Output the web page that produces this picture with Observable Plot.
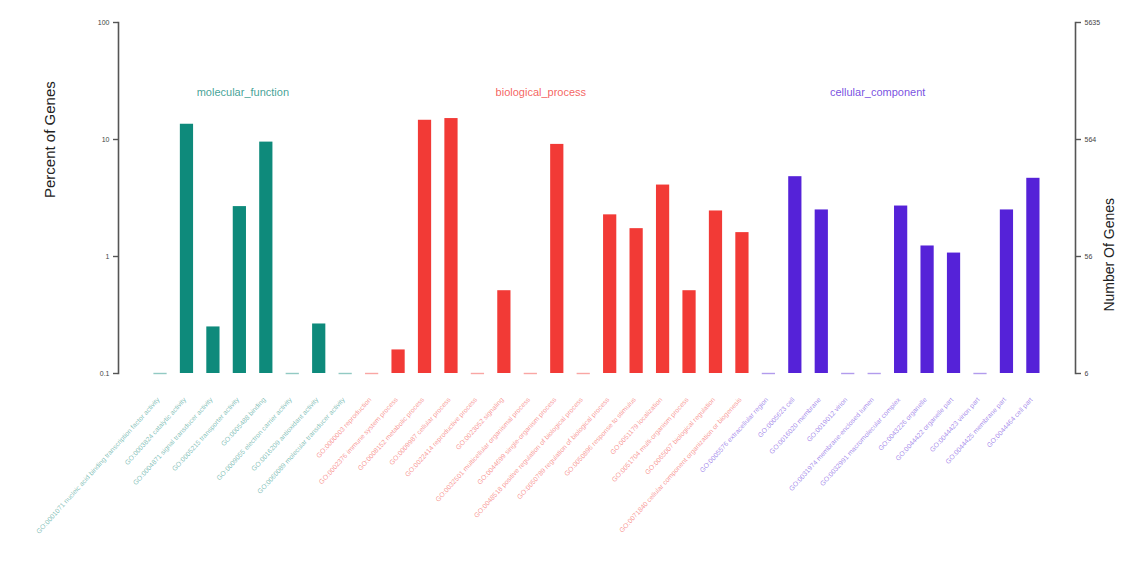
<!DOCTYPE html>
<html>
<head>
<meta charset="utf-8">
<script src="https://cdn.jsdelivr.net/npm/d3@7"></script>
<script src="https://cdn.jsdelivr.net/npm/@observablehq/plot@0.6"></script>
<style>
  html, body { margin: 0; padding: 0; background: #fff; }
</style>
</head>
<body>
<div id="chart"></div>
<script>
// ---- data ----
const groups = ["molecular_function", "biological_process", "cellular_component"];
const groupColors = ["#0e8a7b", "#f23a36", "#5522d8"];

const mfTerms = [
  "GO:0001071 nucleic acid binding transcription factor activity",
  "GO:0003824 catalytic activity",
  "GO:0004871 signal transducer activity",
  "GO:0005215 transporter activity",
  "GO:0005488 binding",
  "GO:0009055 electron carrier activity",
  "GO:0016209 antioxidant activity",
  "GO:0060089 molecular transducer activity"
];
const mfPercent = [0, 13.5, 0.25, 2.67, 9.5, 0, 0.265, 0];

const bpTerms = [
  "GO:0000003 reproduction",
  "GO:0002376 immune system process",
  "GO:0008152 metabolic process",
  "GO:0009987 cellular process",
  "GO:0022414 reproductive process",
  "GO:0023052 signaling",
  "GO:0032501 multicellular organismal process",
  "GO:0044699 single-organism process",
  "GO:0048518 positive regulation of biological process",
  "GO:0050789 regulation of biological process",
  "GO:0050896 response to stimulus",
  "GO:0051179 localization",
  "GO:0051704 multi-organism process",
  "GO:0065007 biological regulation",
  "GO:0071840 cellular component organization or biogenesis"
];
const bpPercent = [0, 0.159, 14.6, 15.1, 0, 0.51, 0, 9.08, 0, 2.27, 1.73, 4.08, 0.51, 2.45, 1.6];

const ccTerms = [
  "GO:0005576 extracellular region",
  "GO:0005623 cell",
  "GO:0016020 membrane",
  "GO:0019012 virion",
  "GO:0031974 membrane-enclosed lumen",
  "GO:0032991 macromolecular complex",
  "GO:0043226 organelle",
  "GO:0044422 organelle part",
  "GO:0044423 virion part",
  "GO:0044425 membrane part",
  "GO:0044464 cell part"
];
const ccPercent = [0, 4.81, 2.5, 0, 0, 2.7, 1.23, 1.07, 0, 2.5, 4.66];

const percentTicks = [0.1, 1, 10, 100];
const geneCountTicks = ["6", "56", "564", "5635"];

// ---- table ----
const rows = [];
[[mfTerms, mfPercent], [bpTerms, bpPercent], [ccTerms, ccPercent]].forEach(([terms, vals], gi) => {
  terms.forEach((t, i) => rows.push({term: t, value: vals[i], group: groups[gi]}));
});
const terms = rows.map(d => d.term);
const groupTitles = [
  {group: groups[0], anchor: mfTerms[3], dx: 3},
  {group: groups[1], anchor: bpTerms[6], dx: 10},
  {group: groups[2], anchor: ccTerms[4], dx: 3}
];
const baseline = percentTicks[0];

const chart = Plot.plot({
  width: 1127,
  height: 565,
  marginLeft: 118,
  marginRight: 52,
  marginTop: 22,
  marginBottom: 192,
  style: {fontFamily: "'Liberation Sans', Arial, sans-serif", background: "#fff", overflow: "visible"},
  x: {domain: terms, range: [153.4, 1039.5], paddingInner: 0.5, paddingOuter: 0, round: false, axis: null},
  y: {type: "log", domain: [0.1, 100], axis: null},
  color: {domain: groups, range: groupColors},
  marks: [
    Plot.frame({anchor: "left", stroke: "#555", strokeWidth: 1.6}),
    Plot.frame({anchor: "right", stroke: "#555", strokeWidth: 1.6}),
    Plot.axisY({anchor: "left", ticks: percentTicks, tickFormat: d => String(d), tickSize: 5,
      fontSize: 7, color: "#444", stroke: "#555", strokeWidth: 1.4, label: null}),
    Plot.axisY({anchor: "right", ticks: percentTicks,
      tickFormat: d => geneCountTicks[percentTicks.indexOf(d)], tickSize: 5,
      fontSize: 7, color: "#444", stroke: "#555", strokeWidth: 1.4, label: null}),
    Plot.text(["Percent of Genes"], {frameAnchor: "left", rotate: -90, dx: -68, fontSize: 15, fill: "#222"}),
    Plot.text(["Number Of Genes"], {frameAnchor: "right", rotate: -90, dx: 34, fontSize: 14, fill: "#222"}),
    Plot.barY(rows.filter(d => d.value > 0), {x: "term", y1: baseline, y2: "value", fill: "group"}),
    Plot.tickY(rows.filter(d => d.value === 0), {x: "term", y: baseline, stroke: "group", strokeOpacity: 0.45, strokeWidth: 1.4}),
    Plot.text(rows, {x: "term", y: baseline, text: "term", rotate: -48, textAnchor: "end",
      dx: -2, dy: 25, fontSize: 6.8, fill: "group", fillOpacity: 0.55}),
    ...groupTitles.map(g => Plot.text([g], {x: "anchor", y: 25, dx: g.dx, text: "group", fill: "group", fontSize: 11, fillOpacity: 0.8}))
  ]
});
document.getElementById("chart").appendChild(chart);
</script>
</body>
</html>
